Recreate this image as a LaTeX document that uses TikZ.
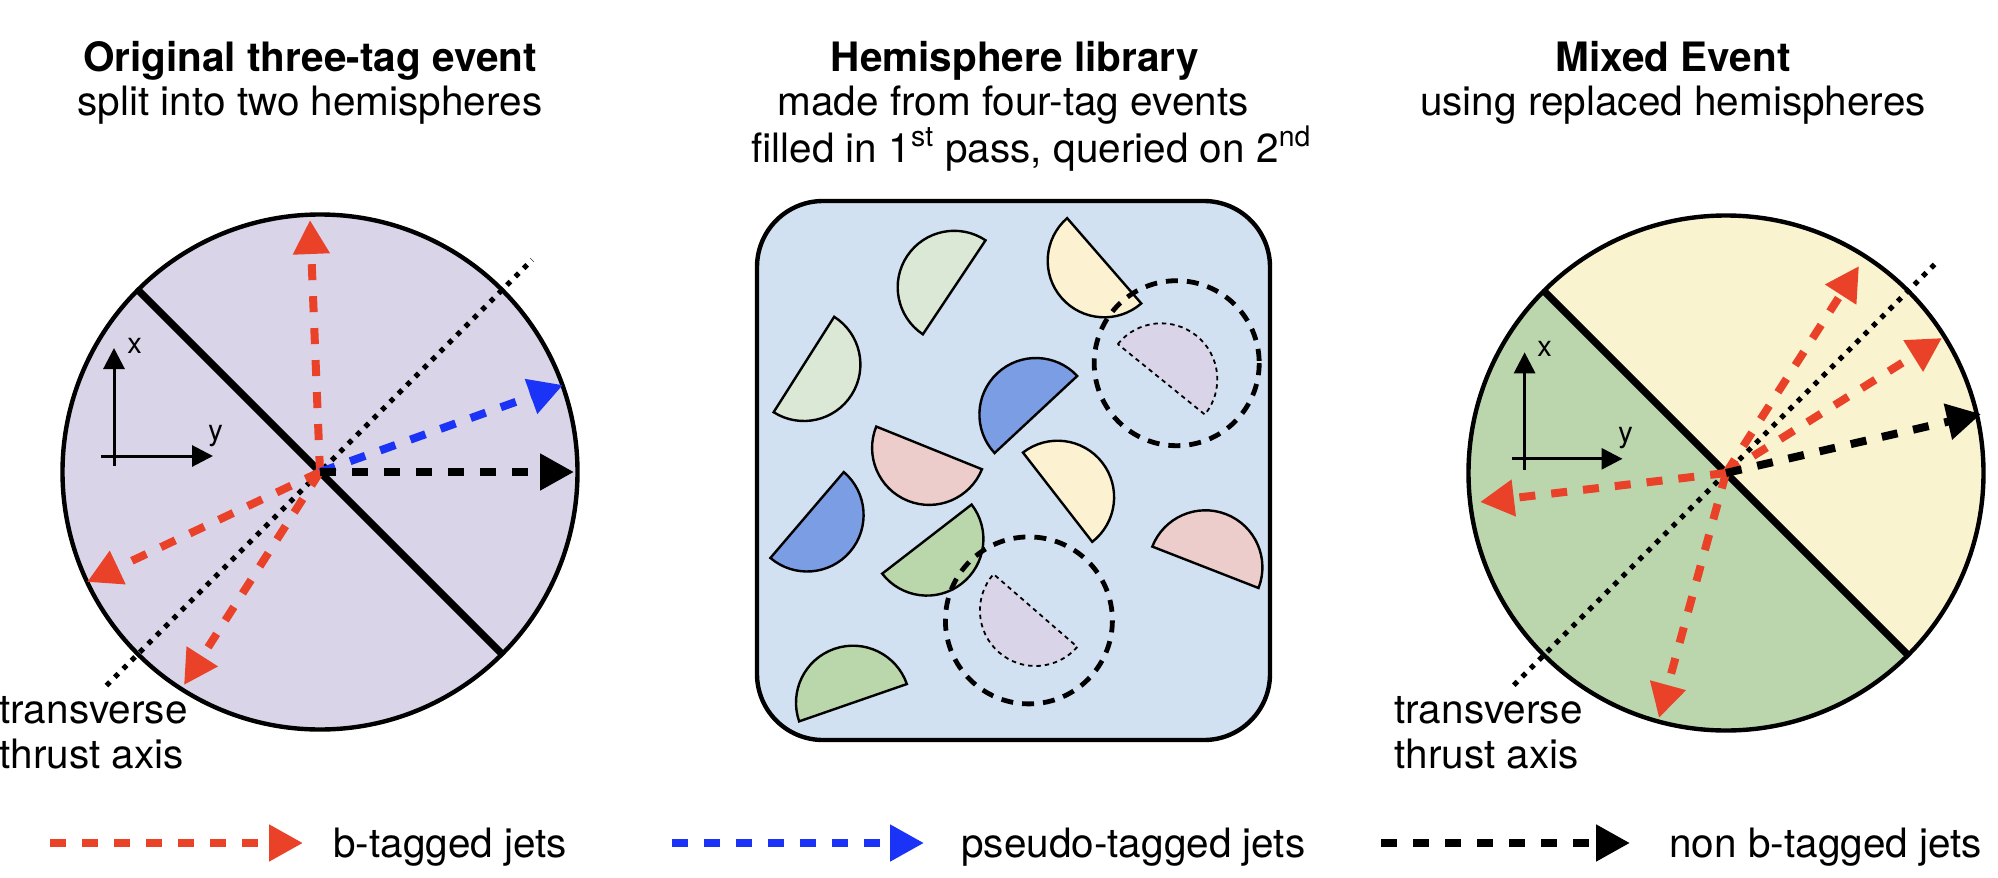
\documentclass[tikz,border=0pt]{standalone}
\usepackage{fontspec}
\setmainfont{TeX Gyre Heros}
\usetikzlibrary{arrows.meta,calc}
\definecolor{lav}{HTML}{D9D4E8}
\definecolor{boxblue}{HTML}{D1E1F1}
\definecolor{lgreen}{HTML}{DCE8D6}
\definecolor{lyellow}{HTML}{FCF2D2}
\definecolor{dblue}{HTML}{7B9DE3}
\definecolor{lpink}{HTML}{ECCDCB}
\definecolor{mgreen}{HTML}{BAD6AB}
\definecolor{ryellow}{HTML}{FAF3D0}
\definecolor{rgreen}{HTML}{BBD6AC}
\definecolor{jred}{HTML}{E94229}
\definecolor{jblue}{HTML}{1A33F6}
\newcommand{\hemi}[5]{%
  \filldraw[hemi, fill=#5] (#1,#2) ++(#4-90:#3) arc[start angle=#4-90, end angle=#4+90, radius=#3] -- cycle;}
\begin{document}
\begin{tikzpicture}[x=0.5pt,y=-0.5pt,
  txt/.style={font=\fontsize{20.25}{24}\selectfont, inner sep=0pt, anchor=base},
  ttl/.style={txt, font=\fontsize{20.25}{24}\selectfont\bfseries},
  ax/.style={line width=1.5pt, -{Triangle[length=10.5pt,width=10.5pt]}},
  axl/.style={font=\fontsize{14.5}{16}\selectfont, inner sep=0pt, anchor=base west},
  jet/.style={line width=4pt, dash pattern=on 8pt off 8pt, -{Triangle[length=17pt,width=17.5pt]}},
  rim/.style={line width=2.2pt},
  divide/.style={line width=3.6pt},
  thrust/.style={line width=2.5pt, dash pattern=on 2.5pt off 3.4pt},
  hemi/.style={line width=1.2pt},
  lib/.style={line width=2.2pt, rounded corners=33pt},
  pick/.style={line width=2.4pt, dash pattern=on 6pt off 4.5pt},
  ghost/.style={line width=0.9pt, dash pattern=on 2.2pt off 2pt, fill=lav}
]
\useasboundingbox (0,0) rectangle (1998,878);

% ---------- titles ----------
\node[ttl] (t1) at (310,71) {Original three-tag event};
\node[txt] (s1) at (310,115) {split into two hemispheres};
\node[ttl] (t2) at (1015,71) {Hemisphere library};
\node[txt] (s2) at (1013,115) {made from four-tag events};
\node[txt, anchor=base west] (s3) at (751,162) {filled in 1\textsuperscript{st} pass, queried on 2\textsuperscript{nd}};
\node[ttl] (t3) at (1673,71) {Mixed Event};
\node[txt] (s4) at (1673,115) {using replaced hemispheres};

% ---------- left panel ----------
\coordinate (cL) at (320,472);
\fill[lav] (cL) circle[radius=257.5];
\draw[divide] ($(cL)+(225:257.5)$) -- ($(cL)+(45:257.5)$);
\draw[thrust] ($(cL)+(135:302)$) -- ($(cL)+(-45:300)$);
\draw[rim] (cL) circle[radius=257.5];
\coordinate (jL1) at (310,220);
\coordinate (jL2) at (563,385);
\coordinate (jL3) at (574,472);
\coordinate (jL4) at (87,582);
\coordinate (jL5) at (184,685);
\draw[jet, jred] (cL) -- (jL1);
\draw[jet, jred] (cL) -- (jL4);
\draw[jet, jred] (cL) -- (jL5);
\draw[jet, jblue] (cL) -- (jL2);
\draw[jet, black] (cL) -- (jL3);
\coordinate (aL0) at (114,466);
\coordinate (aL1) at (114,348);
\coordinate (aL2) at (101,456);
\coordinate (aL3) at (213,456);
\draw[ax] (aL0) -- (aL1);
\draw[ax] (aL2) -- (aL3);
\node[axl] (xL) at (127,353) {x};
\node[axl] (yL) at (208,440.5) {y};
\node[txt, anchor=base west] (tvL) at (-1,723) {transverse};
\node[txt, anchor=base west] (taL) at (-1,768) {thrust axis};

% ---------- middle panel ----------
\draw[lib, fill=boxblue] (757,201) rectangle (1270,740);
\hemi{954.2}{287.3}{56.5}{213.7}{lgreen}
\hemi{803.9}{364.5}{56.5}{32.4}{lgreen}
\hemi{1104.2}{260.8}{56.5}{139}{lyellow}
\hemi{1035.9}{414.5}{56.5}{227}{dblue}
\hemi{929.1}{447.9}{57}{112}{lpink}
\hemi{1057.6}{497.2}{56.5}{-37.8}{lyellow}
\hemi{807.1}{515}{56.5}{40.5}{dblue}
\hemi{926.9}{539.1}{56.5}{52.3}{mgreen}
\hemi{1205.4}{567.3}{57}{-68.7}{lpink}
\hemi{853}{702.7}{57}{-109.1}{mgreen}
\draw[ghost] (1161.3,379.3) ++(-141:56) arc[start angle=-141, end angle=39, radius=56] -- cycle;
\draw[ghost] (1035.4,610.5) ++(41:55.5) arc[start angle=41, end angle=221, radius=55.5] -- cycle;
\draw[pick] (1176.7,363.2) circle[radius=82.5];
\draw[pick] (1028.9,620.4) circle[radius=83.5];

% ---------- right panel ----------
\coordinate (cR) at (1726,473);
\fill[ryellow] (cR) ++(225:257.5) arc[start angle=225, end angle=405, radius=257.5] -- cycle;
\fill[rgreen] (cR) ++(45:257.5) arc[start angle=45, end angle=225, radius=257.5] -- cycle;
\draw[divide] ($(cR)+(225:257.5)$) -- ($(cR)+(45:257.5)$);
\draw[thrust] ($(cR)+(135:300)$) -- ($(cR)+(-45:300)$);
\draw[rim] (cR) circle[radius=257.5];
\coordinate (jR1) at (1859,266);
\coordinate (jR2) at (1942,338);
\coordinate (jR3) at (1981,414);
\coordinate (jR4) at (1480,502);
\coordinate (jR5) at (1659,718);
\draw[jet, jred] (cR) -- (jR1);
\draw[jet, jred] (cR) -- (jR2);
\draw[jet, jred] (cR) -- (jR4);
\draw[jet, jred] (cR) -- (jR5);
\draw[jet, black] (cR) -- (jR3);
\coordinate (aR0) at (1524.6,469.6);
\coordinate (aR1) at (1524.6,352.3);
\coordinate (aR2) at (1512,458.8);
\coordinate (aR3) at (1622.5,458.8);
\draw[ax] (aR0) -- (aR1);
\draw[ax] (aR2) -- (aR3);
\node[axl] (xR) at (1537,356) {x};
\node[axl] (yR) at (1618,442.5) {y};
\node[txt, anchor=base west] (tvR) at (1394,723) {transverse};
\node[txt, anchor=base west] (taR) at (1394,768) {thrust axis};

% ---------- legend ----------
\coordinate (lr0) at (50,843);
\coordinate (lr1) at (303,843);
\coordinate (lb0) at (672,843);
\coordinate (lb1) at (924,843);
\coordinate (lk0) at (1381,843);
\coordinate (lk1) at (1630,843);
\draw[jet, jred] (lr0) -- (lr1);
\draw[jet, jblue] (lb0) -- (lb1);
\draw[jet, black] (lk0) -- (lk1);
\node[txt, anchor=base west] (lrT) at (333,857) {b-tagged jets};
\node[txt, anchor=base west] (lbT) at (961,857) {pseudo-tagged jets};
\node[txt, anchor=base west] (lkT) at (1669,857) {non b-tagged jets};
\end{tikzpicture}
\end{document}
